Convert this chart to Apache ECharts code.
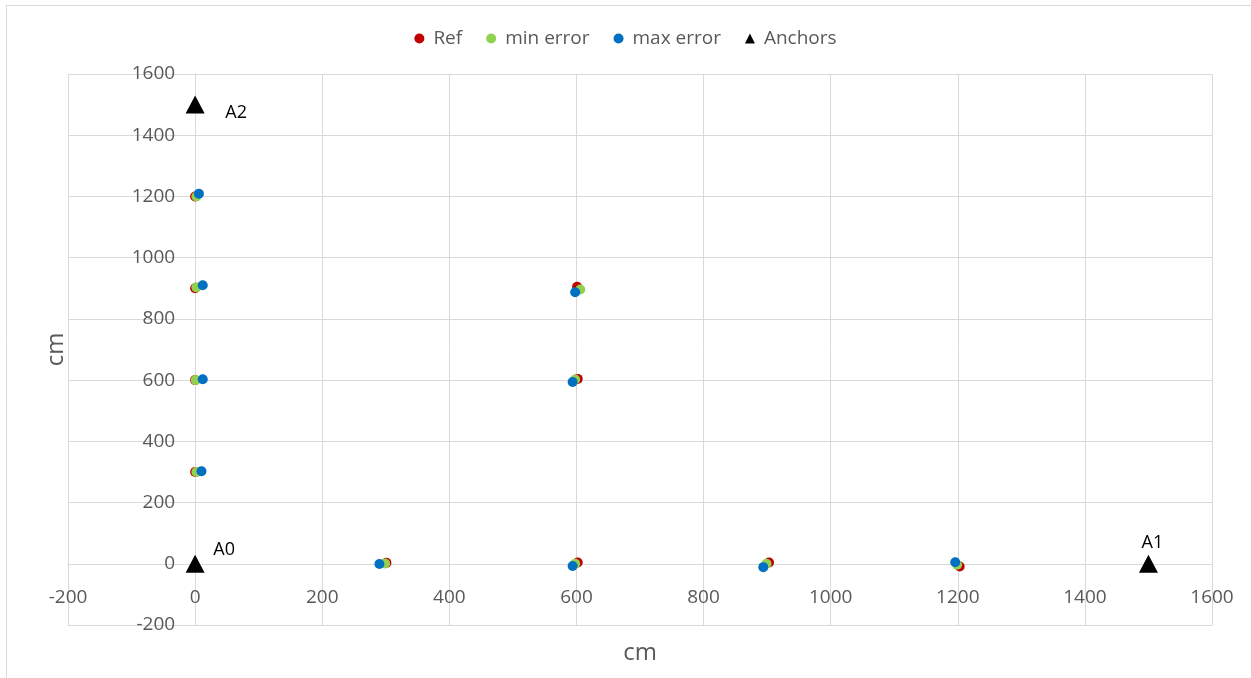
<!DOCTYPE html>
<html>
<head>
<meta charset="utf-8">
<script src="https://cdn.jsdelivr.net/npm/echarts@6/dist/echarts.min.js"></script>
<style>
html,body{margin:0;padding:0;background:#fff;}
#main{width:1251px;height:678px;}
</style>
</head>
<body>
<div id="main"></div>
<script>
// Data (cm)
const seriesNames = ['Ref', 'min error', 'max error', 'Anchors'];
const refPoints = [[0,1200],[0,900],[0,600],[0,300],[301,3],[602,4],[903,4],[1203,-9],[601,905],[602,604]];
const minErrorPoints = [[2,1200],[2,903],[1,600],[2,300],[299,1],[598,0],[899,0],[1199,-3],[606,896],[598,602]];
const maxErrorPoints = [[6,1209],[12,910],[12,603],[10,302],[290,-1],[594,-7],[894,-11],[1196,5],[598,887],[594,594]];
const anchorNames = ['A0', 'A1', 'A2'];
const anchorPoints = [[0,0],[1500,0],[0,1500]];
const axisMin = -200, axisMax = 1600, axisStep = 200;

const labelOffsets = {A0: [29,-14], A1: [4,-21], A2: [41,8]};

const chart = echarts.init(document.getElementById('main'), null, {renderer: 'canvas'});
const font = "'Open Sans', 'Noto Sans', sans-serif";
const gridColor = '#d9d9d9';

const gridLeft = 68, gridRight = 39, gridTop = 74, gridBottom = 53;
const W = 1251, H = 678;
const plotW = W - gridLeft - gridRight, plotH = H - gridTop - gridBottom;
// shift the axes so they cross at zero (offset is derived from the axis range)
const yAxisShift = -plotW * (0 - axisMin) / (axisMax - axisMin);
const xAxisShift = -plotH * (0 - axisMin) / (axisMax - axisMin);

const axisCommon = {
  type: 'value', min: axisMin, max: axisMax, interval: axisStep,
  axisLine: {show: true, onZero: false, lineStyle: {color: gridColor, width: 1}},
  axisTick: {show: false},
  splitLine: {show: true, lineStyle: {color: gridColor, width: 1}},
  axisLabel: {color: '#595959', fontSize: 19, fontFamily: font, formatter: v => String(v)},
  nameLocation: 'middle',
  nameTextStyle: {color: '#595959', fontSize: 24, fontFamily: font}
};

const option = {
  backgroundColor: '#fff',
  animation: false,
  textStyle: {fontFamily: font},
  legend: {
    top: 24, left: 'center',
    itemWidth: 10, itemHeight: 10, itemGap: 24,
    textStyle: {color: '#595959', fontSize: 19, fontFamily: font, padding: [0,0,0,4]},
    data: [
      {name: 'Ref', icon: 'circle'},
      {name: 'min error', icon: 'circle'},
      {name: 'max error', icon: 'circle'},
      {name: 'Anchors', icon: 'triangle'}
    ]
  },
  grid: {left: gridLeft, right: gridRight, top: gridTop, bottom: gridBottom,
         containLabel: false, outerBoundsMode: 'none'},
  xAxis: Object.assign({}, axisCommon, {
    position: 'bottom', offset: xAxisShift,
    name: 'cm', nameGap: 77,
    axisLabel: Object.assign({}, axisCommon.axisLabel, {margin: 24})
  }),
  yAxis: Object.assign({}, axisCommon, {
    position: 'left', offset: yAxisShift,
    name: 'cm', nameGap: 127,
    axisLabel: Object.assign({}, axisCommon.axisLabel, {margin: 20})
  }),
  graphic: [
    {type: 'line', shape: {x1: 6, y1: 5.5, x2: 1251, y2: 5.5}, style: {stroke: gridColor, lineWidth: 1}},
    {type: 'line', shape: {x1: 6.5, y1: 5, x2: 6.5, y2: 678}, style: {stroke: gridColor, lineWidth: 1}}
  ],
  series: [
    {name: seriesNames[0], type: 'scatter', data: refPoints, symbol: 'circle', symbolSize: 10,
     itemStyle: {color: '#C00000', opacity: 1}},
    {name: seriesNames[1], type: 'scatter', data: minErrorPoints, symbol: 'circle', symbolSize: 10,
     itemStyle: {color: '#92D050', opacity: 1}},
    {name: seriesNames[2], type: 'scatter', data: maxErrorPoints, symbol: 'circle', symbolSize: 10,
     itemStyle: {color: '#0070C0', opacity: 1}},
    {name: seriesNames[3], type: 'scatter', symbol: 'triangle', symbolSize: [19,18],
     itemStyle: {color: '#000000', opacity: 1},
     data: anchorPoints.map((p, i) => ({
       name: anchorNames[i], value: p,
       label: {show: true, position: 'inside', offset: labelOffsets[anchorNames[i]],
               formatter: anchorNames[i], color: '#000', fontSize: 18, fontFamily: font}
     }))}
  ]
};
chart.setOption(option);
</script>
</body>
</html>
